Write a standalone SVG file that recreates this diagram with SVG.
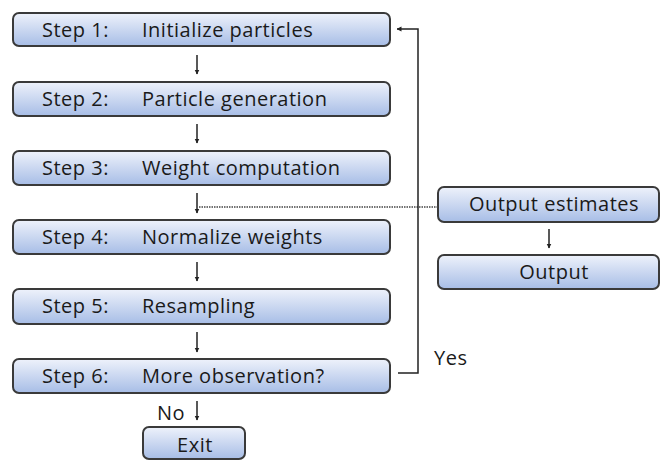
<svg xmlns="http://www.w3.org/2000/svg" width="661" height="461" viewBox="0 0 661 461">
<defs>
<linearGradient id="g" x1="0" y1="0" x2="0" y2="1">
<stop offset="0" stop-color="#eef2fb"/>
<stop offset="1" stop-color="#a7bde6"/>
</linearGradient>
<marker id="ah" viewBox="0 0 10 10" refX="9" refY="5" markerWidth="5" markerHeight="6" orient="auto" markerUnits="userSpaceOnUse">
<path d="M0,0 L10,5 L0,10 z" fill="#222"/>
</marker>
</defs>
<style>
.box{fill:url(#g);stroke:#3a3a3a;stroke-width:2}
text{font-family:"Open Sans","Noto Sans",sans-serif;font-size:20px;letter-spacing:0.5px;fill:#1a1a1a}
.c{text-anchor:middle}
.ln{stroke:#222;stroke-width:1.5;fill:none}
</style>
<g id="step1"><rect class="box" x="13" y="13" width="377" height="33" rx="6"/><text x="42" y="37">Step 1:</text><text x="142" y="37">Initialize particles</text></g>
<g id="step2"><rect class="box" x="13" y="82" width="377" height="34" rx="6"/><text x="42" y="106">Step 2:</text><text x="142" y="106">Particle generation</text></g>
<g id="step3"><rect class="box" x="13" y="151" width="377" height="34" rx="6"/><text x="42" y="175">Step 3:</text><text x="142" y="175">Weight computation</text></g>
<g id="step4"><rect class="box" x="13" y="220" width="377" height="34" rx="6"/><text x="42" y="244">Step 4:</text><text x="142" y="244">Normalize weights</text></g>
<g id="step5"><rect class="box" x="13" y="289" width="377" height="35" rx="6"/><text x="42" y="313">Step 5:</text><text x="142" y="313">Resampling</text></g>
<g id="step6"><rect class="box" x="13" y="359" width="377" height="34" rx="6"/><text x="42" y="383">Step 6:</text><text x="142" y="383">More observation?</text></g>
<g id="exit"><rect class="box" x="143" y="427" width="102" height="32" rx="6"/><text class="c" x="195" y="452">Exit</text></g>
<g id="outest"><rect class="box" x="438" y="187" width="221" height="35" rx="6"/><text class="c" x="554" y="211">Output estimates</text></g>
<g id="output"><rect class="box" x="438" y="255" width="221" height="34" rx="6"/><text class="c" x="554" y="279">Output</text></g>
<g id="connectors">
<line class="ln" x1="197" y1="55" x2="197" y2="74" marker-end="url(#ah)"/>
<line class="ln" x1="197" y1="124" x2="197" y2="143" marker-end="url(#ah)"/>
<line class="ln" x1="197" y1="193" x2="197" y2="213" marker-end="url(#ah)"/>
<line class="ln" x1="197" y1="262" x2="197" y2="281" marker-end="url(#ah)"/>
<line class="ln" x1="197" y1="332" x2="197" y2="352" marker-end="url(#ah)"/>
<line class="ln" x1="197" y1="401" x2="197" y2="420" marker-end="url(#ah)"/>
<line class="ln" x1="549" y1="229" x2="549" y2="248" marker-end="url(#ah)"/>
<line x1="199" y1="207" x2="438" y2="207" stroke="#444" stroke-width="1.5" stroke-dasharray="1.5,1"/>
<polyline class="ln" points="398,373 418,373 418,29 397,29" marker-end="url(#ah)"/>
<text x="434" y="365">Yes</text>
<text x="157" y="420">No</text>
</g>
</svg>
